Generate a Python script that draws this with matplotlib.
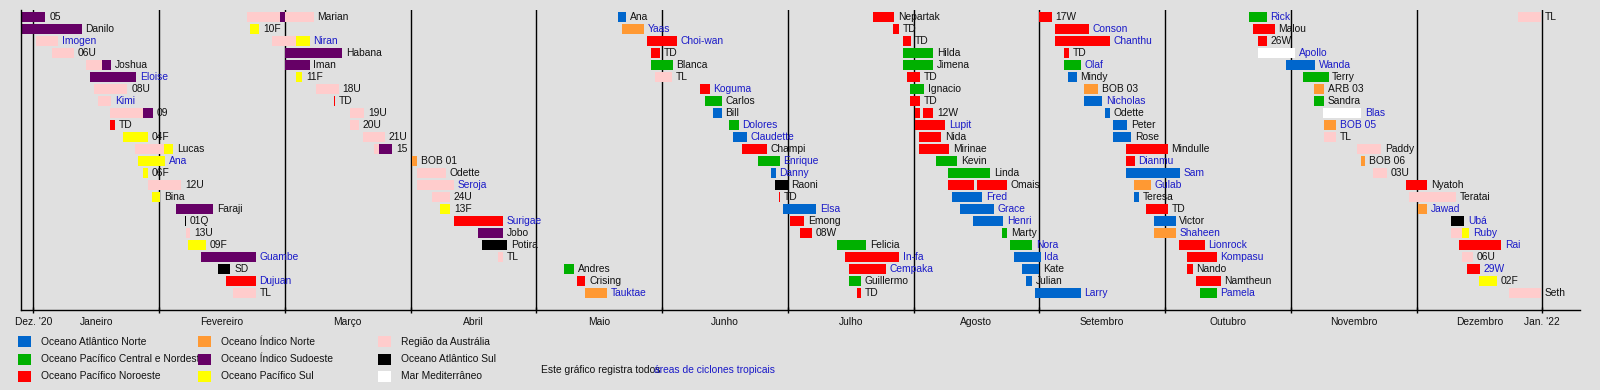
import calendar
import matplotlib
matplotlib.use("Agg")
import matplotlib.pyplot as plt
from matplotlib.patches import Rectangle
from matplotlib.transforms import blended_transform_factory

plt.rcParams['font.family'] = ['Liberation Sans', 'DejaVu Sans']

# ---------------- data ----------------
basin_colors = {
    "NA": "#0066cc", "EP": "#00b000", "WP": "#ff0000",
    "NI": "#ff9933", "SWI": "#660066", "SP": "#ffff00",
    "AUS": "#ffcccc", "SA": "#000000", "MED": "#ffffff",
}
basin_labels = {
    "NA": "Oceano Atlântico Norte", "EP": "Oceano Pacífico Central e Nordeste",
    "WP": "Oceano Pacífico Noroeste", "NI": "Oceano Índico Norte",
    "SWI": "Oceano Índico Sudoeste", "SP": "Oceano Pacífico Sul",
    "AUS": "Região da Austrália", "SA": "Oceano Atlântico Sul",
    "MED": "Mar Mediterrâneo",
}
legend_columns = [["NA", "EP", "WP"], ["NI", "SWI", "SP"], ["AUS", "SA", "MED"]]

month_labels = ["Dez. '20", "Janeiro", "Fevereiro", "Março", "Abril", "Maio", "Junho",
                "Julho", "Agosto", "Setembro", "Outubro", "Novembro", "Dezembro", "Jan. '22"]

names = [
    "05", "Danilo", "Imogen", "06U", "Joshua", "Eloise", "08U", "Kimi", "09", "TD",
    "04F", "Lucas", "Ana", "06F", "12U", "Bina", "Faraji", "01Q", "13U", "09F",
    "Guambe", "SD", "Dujuan", "TL",
    "Marian", "10F", "Niran", "Habana", "Iman", "11F", "18U", "TD", "19U", "20U",
    "21U", "15", "BOB 01", "Odette", "Seroja", "24U", "13F", "Surigae", "Jobo", "Potira",
    "TL", "Andres", "Crising", "Tauktae",
    "Ana", "Yaas", "Choi-wan", "TD", "Blanca", "TL", "Koguma", "Carlos", "Bill", "Dolores",
    "Claudette", "Champi", "Enrique", "Danny", "Raoni", "TD", "Elsa", "Emong", "08W", "Felicia",
    "In-fa", "Cempaka", "Guillermo", "TD",
    "Nepartak", "TD", "TD", "Hilda", "Jimena", "TD", "Ignacio", "TD", "12W", "Lupit",
    "Nida", "Mirinae", "Kevin", "Linda", "Omais", "Fred", "Grace", "Henri", "Marty", "Nora",
    "Ida", "Kate", "Julian", "Larry",
    "17W", "Conson", "Chanthu", "TD", "Olaf", "Mindy", "BOB 03", "Nicholas", "Odette", "Peter",
    "Rose", "Mindulle", "Dianmu", "Sam", "Gulab", "Teresa", "TD", "Victor", "Shaheen", "Lionrock",
    "Kompasu", "Nando", "Namtheun", "Pamela",
    "Rick", "Malou", "26W", "Apollo", "Wanda", "Terry", "ARB 03", "Sandra", "Blas", "BOB 05",
    "TL", "Paddy", "BOB 06", "03U", "Nyatoh", "Teratai", "Jawad", "Ubá", "Ruby", "Rai",
    "06U", "29W", "02F", "Seth",
    "TL",
]

linked = [
    0, 0, 1, 0, 0, 1, 0, 1, 0, 0, 0, 0, 1, 0, 0, 0, 0, 0, 0, 0, 1, 0, 1, 0,
    0, 0, 1, 0, 0, 0, 0, 0, 0, 0, 0, 0, 0, 0, 1, 0, 0, 1, 0, 0, 0, 0, 0, 1,
    0, 1, 1, 0, 0, 0, 1, 0, 0, 1, 1, 0, 1, 1, 0, 0, 1, 0, 0, 0, 1, 1, 0, 0,
    0, 0, 0, 0, 0, 0, 0, 0, 0, 1, 0, 0, 0, 0, 0, 1, 1, 1, 0, 1, 1, 0, 0, 1,
    0, 1, 1, 0, 1, 0, 0, 1, 0, 0, 0, 0, 1, 1, 1, 0, 0, 0, 1, 1, 1, 0, 0, 1,
    1, 0, 0, 1, 1, 0, 0, 0, 1, 1, 0, 0, 0, 0, 0, 0, 1, 1, 1, 1, 0, 1, 0, 0,
    0,
]

starts = [
    "2020-12-28", "2020-12-28", "01-01.6", "01-05.7", "01-14;01-17.9", "01-15", "01-16", "01-17",
    "01-19.9;01-28.1", "01-20", "01-23", "01-26.1;02-02.05", "01-26.9", "01-28", "01-29.35",
    "01-30.3", "02-04.7", "02-06.8", "02-07.1", "02-07.5", "02-10.3", "02-14.1", "02-15.85", "02-17.5",
    "02-20.5;02-27.9;03-01", "02-21.35", "02-26.1;03-03.8", "03-01", "03-01", "03-03.8", "03-08.8",
    "03-13.1", "03-17.2", "03-17.2", "03-20.3", "03-22.9;03-24.3", "04-01.4", "04-02.5", "04-02.5",
    "04-06.1", "04-08.1", "04-11.3", "04-17.2", "04-18.1", "04-21.8", "05-07.8", "05-11", "05-12.96",
    "05-21.1", "05-22.1", "05-28.2", "05-29.2", "05-29.2", "05-30.2", "06-10", "06-11.2", "06-13.1",
    "06-16.9", "06-17.95", "06-20", "06-23.8", "06-26.9", "06-27.9", "06-28.85", "06-29.9", "07-01.67",
    "07-03.9", "07-13.1", "07-15.05", "07-16.04", "07-16.04", "07-18",
    "07-22.1", "07-27.06", "07-29.3", "07-29.3", "07-29.3", "07-30.3", "07-31.25", "07-31.25",
    "08-01.42;08-03.4", "08-01.42", "08-02.4", "08-02.4", "08-06.6", "08-09.55", "08-09.55;08-16.7",
    "08-10.54", "08-12.5", "08-15.7", "08-22.9", "08-24.8", "08-25.8", "08-27.8", "08-28.8", "08-31",
    "09-01", "09-04.75", "09-04.75", "09-06.9", "09-06.9", "09-07.85", "09-11.7", "09-11.7", "09-16.7",
    "09-18.6", "09-18.6", "09-21.7", "09-21.7", "09-21.7", "09-23.6", "09-23.6", "09-26.5", "09-28.4",
    "09-28.4", "10-04.4", "10-06.35", "10-06.35", "10-08.6", "10-09.55",
    "10-21.6", "10-22.6", "10-23.9", "10-23.9", "10-30.8", "11-03.8", "11-06.66", "11-06.66", "11-08.8",
    "11-09", "11-09", "11-16.75", "11-17.7", "11-20.6", "11-28.4", "11-29.3", "12-01.4", "12-09.55",
    "12-09.55;12-12.3", "12-11.5", "12-12.3", "12-13.5", "12-16.5", "12-23.7",
    "12-25.9",
]

ends = [
    "01-04", "01-12.9", "01-07.1", "01-11", "01-17.9;01-20.2", "01-26.3", "01-24.2", "01-20.2",
    "01-28.1;01-30.6", "01-21.2", "01-29.2", "02-02.05;02-04.1", "02-02.4", "01-29.2", "02-05.9",
    "02-01.3", "02-13.1", "02-06.8", "02-07.95", "02-11.4", "02-22.5", "02-16.9", "02-22.5", "02-22.7",
    "02-27.9;03-01;03-08.15", "02-23.3", "03-03.8;03-07.1", "03-15.15", "03-07.1", "03-05.3", "03-14.3",
    "03-13.1", "03-20.65", "03-19.3", "03-25.7", "03-24.3;03-27.55", "04-02.5", "04-09.35", "04-11.3",
    "04-10.4", "04-10.5", "04-23.1", "04-23.1", "04-24", "04-23.05", "05-10.25", "05-13.1", "05-18.46",
    "05-23.2", "05-27.5", "06-04.5", "05-31.4", "06-03.55", "06-03.4", "06-12.4", "06-15.25", "06-15.25",
    "06-19.3", "06-21.2", "06-26", "06-29.1", "06-28.1", "07-01", "06-28.85", "07-08", "07-05.1",
    "07-07", "07-20.3", "07-28.5", "07-25.26", "07-19.1", "07-19.1",
    "07-27.2", "07-28.5", "07-31.5", "08-05.86", "08-05.86", "08-02.65", "08-03.64", "08-02.65",
    "08-02.65;08-05.86", "08-08.8", "08-07.83", "08-09.8", "08-11.77", "08-19.9", "08-15.96;08-24.1",
    "08-17.9", "08-20.9", "08-23.1", "08-24.1", "08-30.3", "09-01.3", "09-01", "08-30.3", "09-10.9",
    "09-03.96", "09-12.9", "09-17.9", "09-08", "09-10.95", "09-09.9", "09-15", "09-16", "09-17.9",
    "09-21.9", "09-22.9", "10-01.67", "09-23.8", "10-04.6", "09-27.7", "09-24.8", "10-01.67", "10-03.6",
    "10-03.6", "10-10.8", "10-13.7", "10-07.8", "10-14.7", "10-13.7",
    "10-26.1", "10-28", "10-26.1", "11-02", "11-06.8", "11-10", "11-08.9", "11-09", "11-17.8",
    "11-11.8", "11-11.8", "11-22.6", "11-18.7", "11-23.9", "12-03.6", "12-10.7", "12-03.6", "12-12.8",
    "12-12.3;12-14", "12-21.9", "12-14.8", "12-16.7", "12-20.9", "12-31.7",
    "12-31.7",
]

basins = [
    "SWI", "SWI", "AUS", "AUS", "AUS;SWI", "SWI", "AUS", "AUS", "AUS;SWI", "WP", "SP", "AUS;SP",
    "SP", "SP", "AUS", "SP", "SWI", "SA", "AUS", "SP", "SWI", "SA", "WP", "AUS",
    "AUS;SWI;AUS", "SP", "AUS;SP", "SWI", "SWI", "SP", "AUS", "WP", "AUS", "AUS", "AUS", "AUS;SWI",
    "NI", "AUS", "AUS", "AUS", "SP", "WP", "SWI", "SA", "AUS", "EP", "WP", "NI",
    "NA", "NI", "WP", "WP", "EP", "AUS", "WP", "EP", "NA", "EP", "NA", "WP",
    "EP", "NA", "SA", "WP", "NA", "WP", "WP", "EP", "WP", "WP", "EP", "WP",
    "WP", "WP", "WP", "EP", "EP", "WP", "EP", "WP", "WP;WP", "WP", "WP", "WP",
    "EP", "EP", "WP;WP", "NA", "NA", "NA", "EP", "EP", "NA", "NA", "NA", "NA",
    "WP", "WP", "WP", "WP", "EP", "NA", "NI", "NA", "NA", "NA", "NA", "WP",
    "WP", "NA", "NI", "NA", "WP", "NA", "NI", "WP", "WP", "WP", "WP", "EP",
    "EP", "WP", "WP", "MED", "NA", "EP", "NI", "EP", "MED", "NI", "AUS", "AUS",
    "NI", "AUS", "WP", "AUS", "NI", "SA", "AUS;SP", "WP", "AUS", "WP", "SP", "AUS",
    "AUS",
]

ROWS = 24

# ---------------- helpers ----------------
def to_month(s):
    parts = s.split("-")
    if len(parts) == 3:
        y, m, d = int(parts[0]), int(parts[1]), float(parts[2])
    else:
        y, m, d = 2021, int(parts[0]), float(parts[1])
    nd = calendar.monthrange(y, m)[1]
    return (y - 2021) * 12 + (m - 1) + (d - 1) / nd

W, H = 1600, 390
BG = "#e0e0e0"
fig = plt.figure(figsize=(W / 100, H / 100), dpi=100)
fig.patch.set_facecolor(BG)

def px_rect(x0, ytop, x1, ybot):
    return [x0 / W, 1 - ybot / H, (x1 - x0) / W, (ybot - ytop) / H]

ax = fig.add_axes(px_rect(20.7, 10, 1580, 310))
ax.set_facecolor(BG)
ax.set_xlim(-0.1, 12.3)
row0, rowstep = 17.3, 12.0
ax.set_ylim((310 - row0) / rowstep, (10 - row0) / rowstep)

for sp in ["top", "right"]:
    ax.spines[sp].set_visible(False)
for sp in ["left", "bottom"]:
    ax.spines[sp].set_color("black")
    ax.spines[sp].set_linewidth(1.0)
ax.set_yticks([])
ax.set_xticks(range(13))
ax.set_xticklabels([])
ax.tick_params(axis="x", direction="inout", length=5, width=1, color="black")

for m in range(13):
    ax.axvline(m, color="black", lw=1.0, zorder=1)

bar_h = 10 / rowstep
min_w = 0.007
for i, nm in enumerate(names):
    row = i % ROWS
    ss = starts[i].split(";")
    ee = ends[i].split(";")
    bb = basins[i].split(";")
    xend = None
    for s, e, b in zip(ss, ee, bb):
        x0, x1 = to_month(s), to_month(e)
        w = max(x1 - x0, min_w)
        ax.barh(row, w, left=x0, height=bar_h, color=basin_colors[b],
                edgecolor="none", zorder=2)
        xend = x0 + w if xend is None else max(xend, x0 + w)
    ax.annotate(nm, xy=(xend, row), xytext=(2.7, 0), textcoords="offset points",
                va="center", ha="left", fontsize=7.4,
                color="#1a1ac8" if linked[i] else "#111111", zorder=3,
                annotation_clip=False)

# month labels
trans = blended_transform_factory(ax.transData, fig.transFigure)
label_pos = [0] + [m + 0.5 for m in range(12)] + [12]
for xp, lab in zip(label_pos, month_labels):
    ax.text(xp, 1 - 321.7 / H, lab, transform=trans, ha="center", va="center",
            fontsize=7.4, color="#111111")

# legend (pixel overlay)
ov = fig.add_axes([0, 0, 1, 1])
ov.set_xlim(0, W)
ov.set_ylim(H, 0)
ov.axis("off")
ov.patch.set_alpha(0)
leg_x = [18.3, 198.3, 378.3]
leg_y = [341.7, 359.3, 376.0]
for ci, col in enumerate(legend_columns):
    for ri, key in enumerate(col):
        ov.text(leg_x[ci] + 22.4, leg_y[ri], basin_labels[key], ha="left", va="center",
                fontsize=7.4, color="#111111", zorder=1)
        ov.add_patch(Rectangle((leg_x[ci], leg_y[ri] - 5.5), 12.7, 11,
                               facecolor=basin_colors[key], edgecolor="none", zorder=2))

ov.text(540.7, 370, "Este gráfico registra todos", ha="left", va="center",
        fontsize=7.4, color="#111111")
ov.text(654.0, 370, "áreas de ciclones tropicais", ha="left", va="center",
        fontsize=7.4, color="#1a1ac8")

fig.savefig("out.png", dpi=100, facecolor=BG)
